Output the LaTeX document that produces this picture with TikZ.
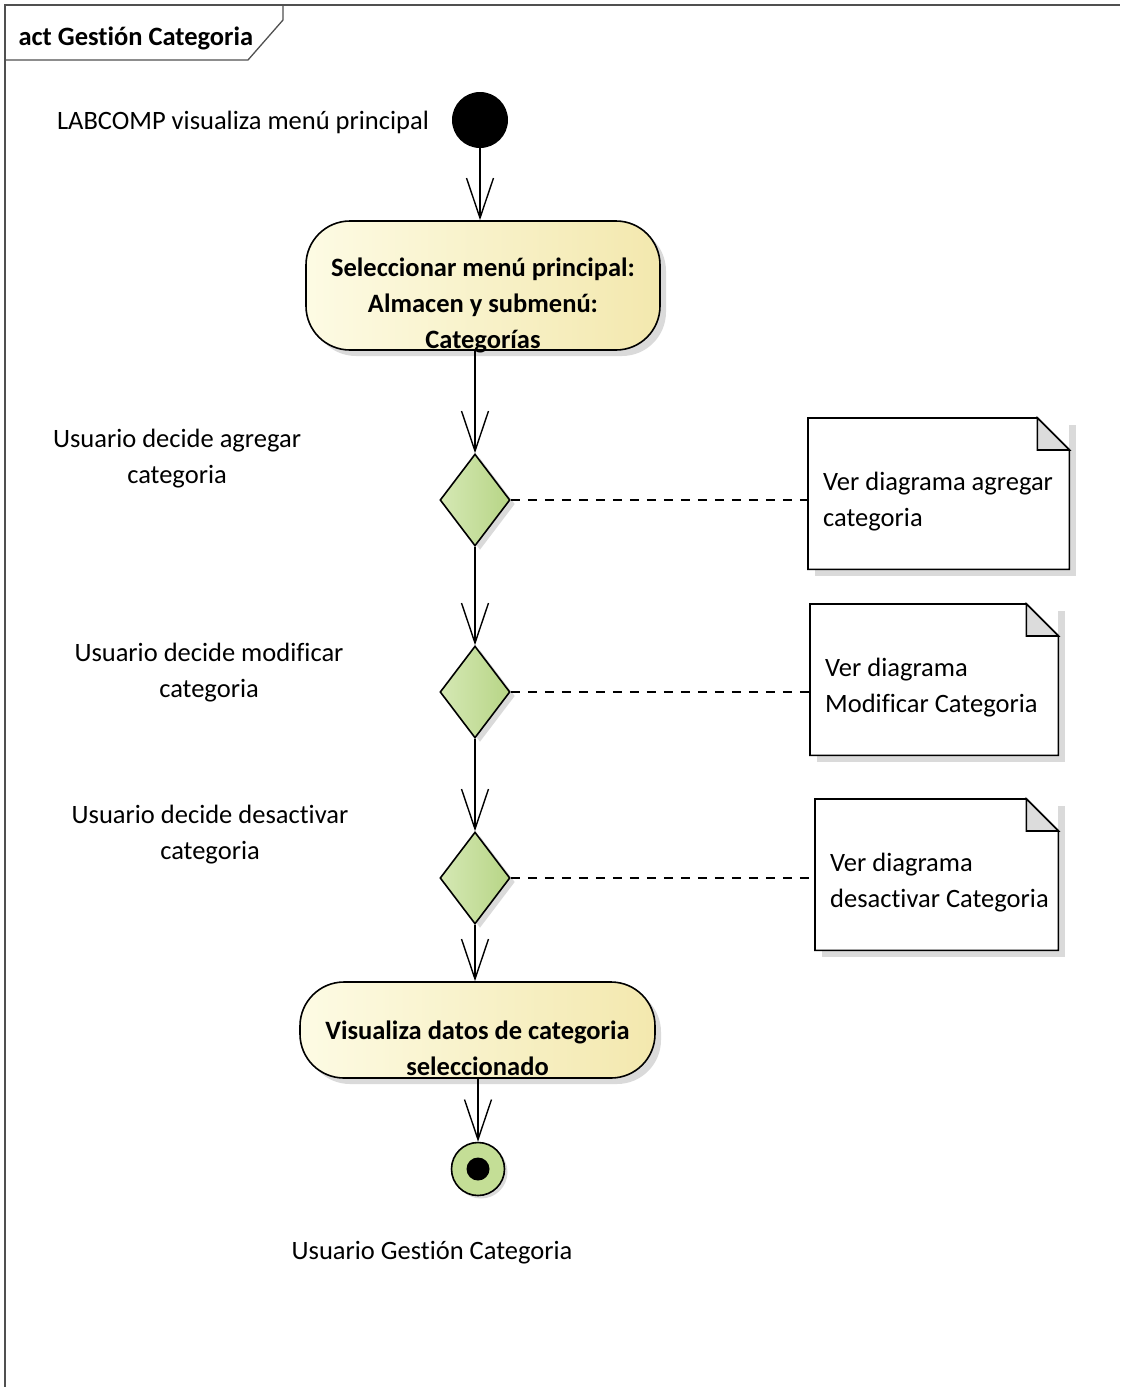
\documentclass[tikz,border=0pt]{standalone}
\usepackage{fontspec}
\setmainfont{Carlito}[Ligatures={NoCommon}]
\usepackage{tikz}
\usetikzlibrary{arrows.meta,positioning,shapes.geometric,shadows}
\definecolor{cActL}{HTML}{FDFBE4}
\definecolor{cActR}{HTML}{F3E8AE}
\definecolor{cDecL}{HTML}{D5E8B4}
\definecolor{cDecR}{HTML}{B7D586}
\definecolor{cFin} {HTML}{C4DE96}
\definecolor{cShd} {HTML}{DADADA}
\definecolor{cFold}{HTML}{DCDCDC}
\definecolor{cFrm} {HTML}{505050}
\newcommand{\dgmfont}{\fontsize{26.5}{36}\selectfont}
\tikzset{
  act/.style    ={draw=black,line width=1.6pt,rounded corners=44pt,
                  left color=cActL,right color=cActR,font=\dgmfont\bfseries,align=center,
                  inner ysep=0pt,drop shadow={shadow xshift=6pt,shadow yshift=-6pt,
                  fill=cShd,opacity=1}},
  dec/.style    ={diamond,draw=black,line width=1.6pt,left color=cDecL,right color=cDecR,
                  minimum width=70pt,minimum height=92pt,inner sep=0pt,
                  drop shadow={shadow xshift=5pt,shadow yshift=-4pt,fill=cShd,opacity=1}},
  ini/.style    ={circle,fill=black,minimum size=56pt,inner sep=0pt},
  fin/.style    ={circle,draw=black,line width=1.6pt,fill=cFin,minimum size=53pt,inner sep=0pt,
                  path picture={\fill[black] (path picture bounding box.center) circle (11.5pt);},
                  drop shadow={shadow xshift=3pt,shadow yshift=-3pt,fill=cShd,opacity=1}},
  notebox/.style={fill=white,text height=72pt,text depth=79pt,inner ysep=0pt,
                  align=flush left,inner xsep=15pt,anchor=north west,
                  execute at begin node={\hyphenpenalty=10000},
                  drop shadow={shadow xshift=7pt,shadow yshift=-7pt,fill=cShd,opacity=1}},
  noteln/.style ={draw=black,line width=1.6pt},
  lbl/.style    ={align=center},
  frm/.style    ={draw=cFrm,line width=1.3pt},
  flow/.style   ={-{Straight Barb[length=40pt,width=27pt]},line width=1.4pt},
  dep/.style    ={line width=1.5pt,dash pattern=on 9pt off 8pt},
}

\begin{document}
\begin{tikzpicture}[x=1pt,y=-1pt,font=\dgmfont]
\useasboundingbox (0,0) rectangle (1120,1387);

% ---------------- frame ---------------------------------------------------
\draw[frm] (5,1387) -- (5,5) -- (1120,5);
\draw[frm] (5,60) -- (248,60) -- (283,20) -- (283,5);
\node[font=\dgmfont\bfseries,anchor=west] (ttl) at (15,38) {act Gestión Categoria};

% ---------------- flow ----------------------------------------------------
\node[ini] (init) at (480,120) {};
\node[lbl] (lInit) at (243,122) {LABCOMP visualiza menú principal};

\node[act,minimum width=354pt,text height=127pt,text depth=2pt] (act1) at (483,285.5)
  {Seleccionar menú principal:\\Almacen y submenú:\\Categorías};

\node[dec] (d1) at (475,500) {};
\node[dec] (d2) at (475,692) {};
\node[dec] (d3) at (475,878) {};
\node[lbl] (l1) at (177,459)   {Usuario decide agregar\\categoria};
\node[lbl] (l2) at (209,672.5) {Usuario decide modificar\\categoria};
\node[lbl] (l3) at (210,834.5) {Usuario decide desactivar\\categoria};

\node[act,minimum width=355pt,text height=93pt,text depth=3pt] (act2) at (477.5,1030)
  {Visualiza datos de categoria\\seleccionado};

\node[fin] (fin) at (478,1169) {};
\node[lbl] (lFin) at (432,1253) {Usuario Gestión Categoria};

\draw[flow] (init) -- (init |- act1.north);
\draw[flow] (act1.south -| d1) -- (d1.north);
\draw[flow] (d1) -- (d2);
\draw[flow] (d2) -- (d3);
\draw[flow] (d3) -- (d3 |- act2.north);
\draw[flow] (act2.south -| fin) -- (fin);

% ---------------- notes ---------------------------------------------------
\foreach \i/\x/\y/\w/\tw/\txt in {%
  1/808/418/261pt/231pt/{\mbox{Ver diagrama agregar}\\categoria},
  2/810/604/248pt/218pt/{Ver diagrama\\\mbox{Modificar Categoria}},
  3/815/799/243pt/213pt/{Ver diagrama\\\mbox{desactivar Categoria}}}
{
  \node[notebox,minimum width=\w,text width=\tw] (n\i) at (\x,\y) {\txt};
  \draw[noteln] (n\i.north west) -- ([xshift=-32pt]n\i.north east)
    -- ([yshift=-32pt]n\i.north east) -- (n\i.south east) -- (n\i.south west) -- cycle;
  \draw[noteln,fill=cFold] ([xshift=-32pt]n\i.north east)
    -- ([xshift=-32pt,yshift=-32pt]n\i.north east) -- ([yshift=-32pt]n\i.north east) -- cycle;
  \draw[dep] (d\i.east) -- (d\i.east -| n\i.west);
}
\end{tikzpicture}
\end{document}
